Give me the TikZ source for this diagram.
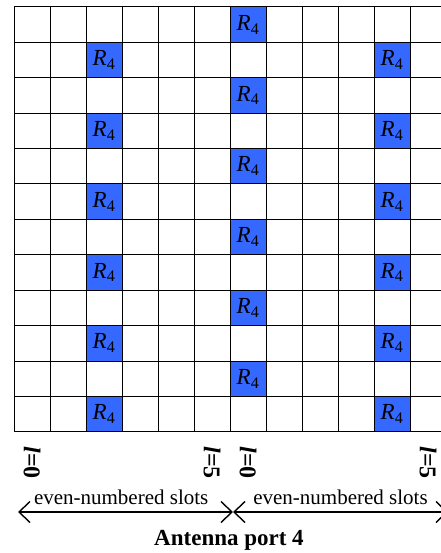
\documentclass[tikz,border=0pt]{standalone}
\usepackage{fontspec}
\setmainfont{Liberation Serif}
\usetikzlibrary{arrows.meta,positioning}
\definecolor{reblue}{RGB}{52,104,255}
\tikzstyle{cell} = [rectangle, draw=black, line width=1pt, minimum width=36pt, minimum height=35.4pt, inner sep=0pt]
\tikzstyle{rcell} = [cell, fill=reblue, font=\fontsize{23}{26}\selectfont]
\tikzstyle{slotlbl} = [rotate=-90, anchor=west, inner sep=0pt, font=\fontsize{24}{27}\selectfont\bfseries]
\tikzstyle{slotarrow} = [line width=1.4pt, {Straight Barb[length=11pt,width=21pt,line width=1.4pt]}-{Straight Barb[length=11pt,width=21pt,line width=1.4pt]}]
\newcommand{\rsym}{\textit{R}\textsubscript{4}}

\begin{document}
\begin{tikzpicture}[x=1pt, y=-1pt]
	\useasboundingbox (0,0) rectangle (440,553);

	% resource grid
	\foreach \i in {0,...,11}
	  \foreach \j in {0,...,11}
	    \node (c\i-\j) [cell] at ({32+36*\j},{24.7+35.4*\i}) {};

	% reference signal cells
	\foreach \i in {1,3,...,11} {
	  \node (ra\i) [rcell] at (c\i-2) {\rsym};
	  \node (rc\i) [rcell] at (c\i-10) {\rsym};
	}
	\foreach \i in {0,2,...,10}
	  \node (rb\i) [rcell] at (c\i-6) {\rsym};

	% symbol indices
	\node (la) [slotlbl] at ([yshift=-14pt]c11-0.south) {\textit{l}=0};
	\node (lb) [slotlbl] at ([yshift=-14pt]c11-5.south) {\textit{l}=5};
	\node (lc) [slotlbl] at ([yshift=-14pt]c11-6.south) {\textit{l}=0};
	\node (ld) [slotlbl] at ([yshift=-14pt]c11-11.south) {\textit{l}=5};

	\coordinate (s0) at (18,512);
	\coordinate (s1) at (233,512);
	\coordinate (s2) at (448,512);

	\draw[slotarrow] (s0) -- (s1) node [pos=0.48, above=7pt, inner sep=0pt, font=\fontsize{21}{24}\selectfont] {even-numbered slots};
	\draw[slotarrow] (s1) -- (s2) node [pos=0.5, above=7pt, inner sep=0pt, font=\fontsize{21}{24}\selectfont] {even-numbered slots};

	\node (port) [font=\fontsize{23}{26}\selectfont\bfseries] at (229,540) {Antenna port 4};

\end{tikzpicture}
\end{document}
